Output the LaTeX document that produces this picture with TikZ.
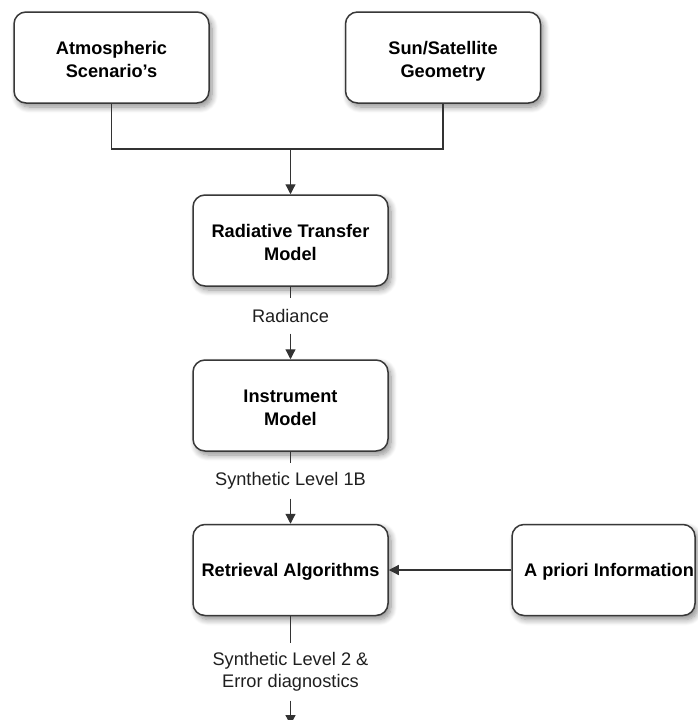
\documentclass[tikz,border=0pt]{standalone}
\usepackage{fontspec}
\setmainfont{Liberation Sans}
\usetikzlibrary{arrows.meta,shadows.blur}
\newcommand\twolines[2]{\raisebox{-4pt}[\height][\depth]{\begin{tabular}{@{}c@{}}#1\\#2\end{tabular}}}
\newcommand\oneline[1]{\raisebox{-2pt}[\height][\depth]{#1}}
\tikzset{
  box/.style={draw=black!78, line width=1.5pt, rounded corners=12pt, fill=white,
    minimum width=195pt, minimum height=91pt, inner sep=0pt, align=center,
    font=\bfseries\fontsize{18.2}{23}\selectfont,
    blur shadow={shadow xshift=3pt, shadow yshift=-4pt, shadow blur steps=8, shadow opacity=45, shadow blur radius=6pt}},
  lbl/.style={inner sep=0pt, minimum height=35pt, align=center, text=black!88,
    font=\fontsize{18.2}{22}\selectfont},
  conn/.style={draw=black!80, line width=1.2pt},
  arr/.style={conn, -{Triangle[length=10pt,width=10pt]}}
}
\begin{document}
\begin{tikzpicture}[x=1pt,y=-1pt]
\useasboundingbox (0,0) rectangle (697,720);
\node[box] (atm) at (111.5,57.5) {\twolines{Atmospheric}{Scenario's}};
\node[box] (sun) at (443,57.5) {\twolines{Sun/Satellite}{Geometry}};
\node[box] (rtm) at (290.5,240.5) {\twolines{Radiative Transfer}{Model}};
\node[box] (inst) at (290.5,405.5) {\twolines{Instrument}{Model}};
\node[box] (ret) at (290.5,570) {\oneline{Retrieval Algorithms}};
\node[box, minimum width=183pt] (apr) at (603.5,570) {\oneline{\hspace*{11pt}A priori Information}};
\node[lbl] (rad) at (290.5,316) {Radiance};
\node[lbl] (l1b) at (290.5,481) {Synthetic Level 1B};
\node[lbl, minimum height=57pt] (l2) at (290.5,672) {Synthetic Level 2 \&\\Error diagnostics};
\coordinate (j) at (290.5,149);
\coordinate (end) at (290.5,725);
\draw[conn] (atm.south) |- (j) -| (sun.south);
\draw[arr] (j) -- (rtm.north);
\draw[conn] (rtm.south) -- (rad.north);
\draw[arr] (rad.south) -- (inst.north);
\draw[conn] (inst.south) -- (l1b.north);
\draw[arr] (l1b.south) -- (ret.north);
\draw[arr] (apr.west) -- (ret.east);
\draw[conn] (ret.south) -- (l2.north);
\draw[arr] (l2.south) -- (end);
\end{tikzpicture}
\end{document}
